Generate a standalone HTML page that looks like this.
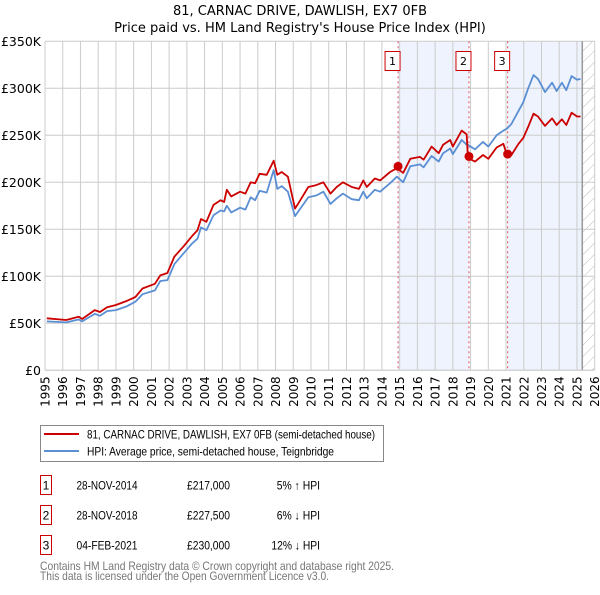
<!DOCTYPE html>
<html><head><meta charset="utf-8"><style>
body{margin:0;background:#fff;width:600px;height:590px;overflow:hidden;font-family:"Liberation Sans","DejaVu Sans",sans-serif}
svg text{font-family:"DejaVu Sans","Liberation Sans",sans-serif}
svg text.ls{font-family:"Liberation Sans","DejaVu Sans",sans-serif}
</style></head><body>
<svg id="c" width="600" height="590" xmlns="http://www.w3.org/2000/svg">
<defs><pattern id="hatch" width="8" height="8" patternUnits="userSpaceOnUse" patternTransform="rotate(45)"><line x1="0" y1="0" x2="0" y2="8" stroke="#bbb" stroke-width="1"/></pattern></defs>
<text x="300" y="15" text-anchor="middle" font-size="13" fill="#000">81, CARNAC DRIVE, DAWLISH, EX7 0FB</text>
<text x="300" y="32" text-anchor="middle" font-size="13" fill="#000">Price paid vs. HM Land Registry's House Price Index (HPI)</text>
<g id="plot"></g>
<g>
<rect x="40.5" y="425.5" width="343" height="36" fill="#fff" stroke="#888"/>
<line x1="44" y1="434" x2="79" y2="434" stroke="#cc0000" stroke-width="2"/>
<text class="ls" x="87" y="438.5" font-size="12" textLength="288" lengthAdjust="spacingAndGlyphs">81, CARNAC DRIVE, DAWLISH, EX7 0FB (semi-detached house)</text>
<line x1="44" y1="451" x2="79" y2="451" stroke="#5b8fd4" stroke-width="2"/>
<text class="ls" x="87" y="455.5" font-size="12" textLength="247" lengthAdjust="spacingAndGlyphs">HPI: Average price, semi-detached house, Teignbridge</text>
</g>
<g id="tbl" font-size="12"></g>
<text class="ls" x="40" y="570" font-size="12" fill="#777" textLength="354" lengthAdjust="spacingAndGlyphs">Contains HM Land Registry data © Crown copyright and database right 2025.</text>
<text class="ls" x="40" y="580" font-size="12" fill="#777" textLength="289" lengthAdjust="spacingAndGlyphs">This data is licensed under the Open Government Licence v3.0.</text>
</svg>
<script>
const yearTicks=[1995,1996,1997,1998,1999,2000,2001,2002,2003,2004,2005,2006,2007,2008,2009,2010,2011,2012,2013,2014,2015,2016,2017,2018,2019,2020,2021,2022,2023,2024,2025,2026];
const valueTicks=[0,50,100,150,200,250,300,350];
const valueLabels=["£0","£50K","£100K","£150K","£200K","£250K","£300K","£350K"];
const dates=[1995.1,1996.2,1996.9,1997.1,1997.8,1998.1,1998.5,1999.0,1999.6,2000.1,2000.5,2001.2,2001.5,2001.9,2002.3,2002.8,2003.3,2003.6,2003.8,2004.1,2004.5,2004.9,2005.1,2005.25,2005.5,2006.0,2006.3,2006.6,2006.85,2007.1,2007.5,2007.9,2008.1,2008.35,2008.7,2009.1,2009.4,2009.85,2010.3,2010.7,2011.1,2011.45,2011.8,2012.3,2012.7,2012.95,2013.15,2013.6,2013.9,2014.46,2014.84,2015.2,2015.6,2016.15,2016.35,2016.8,2017.2,2017.45,2017.85,2018.0,2018.5,2018.78,2018.85,2019.25,2019.7,2020.0,2020.47,2020.85,2021.05,2021.3,2021.7,2021.97,2022.25,2022.55,2022.8,2023.2,2023.6,2023.85,2024.15,2024.4,2024.7,2025.0,2025.2];
const propertyValues=[55.3,53.5,57,54.6,64,62,67,69.5,73.7,78,87,92,101,103.5,121,131.5,143,149,161,158,176,181,179,192,185,190,188,200,199,209,208,223,208,211,206,172,181,195,197,200,188,195,200,195,193,202,195,204,202,211,215,210,225,227,224,238,231,240,245,238,255,251,226,222,229,225,237,241,229,229,241,247,259,273,270,260,268,261,267,261,274,270,270];
const hpiValues=[52,51,54,52,60,58,63,64,68,73,81,85,95,96,113,124,135,140,152,149,165,170,169,175,168,173,171,184,181,191,189,213,193,196,190,164,172,184,186,190,177,183,188,182,181,190,183,192,190,199,206,200,217,219,216,228,222,231,236,230,245,240,240,235,243,238,250,255,257,262,276,285,300,314,310,296,306,297,306,298,313,309,310];
const saleDates=[2014.91,2018.91,2021.09];
const salePrices=[217,227.5,230];
const saleLabels=["1","2","3"];
const saleDateText=["28-NOV-2014","28-NOV-2018","04-FEB-2021"];
const salePriceText=["£217,000","£227,500","£230,000"];
const saleHpiText=["5% ↑ HPI","6% ↓ HPI","12% ↓ HPI"];
const dataEnd=2025.3;

const X0=45,X1=594.7,Y0=370.3,YT=41.3;
const xs=d=>X0+(d-1995)*(X1-X0)/31;
const ys=v=>Y0-v*(Y0-YT)/350;
const NS="http://www.w3.org/2000/svg";
const plot=document.getElementById('plot');
function mk(tag,attrs,parent){const e=document.createElementNS(NS,tag);for(const k in attrs)e.setAttribute(k,attrs[k]);(parent||plot).appendChild(e);return e;}
for(const [a,b] of [[saleDates[0],saleDates[1]],[saleDates[2],dataEnd]]){
 const r=mk('rect',{x:xs(a),y:YT,width:xs(b)-xs(a),height:Y0-YT,fill:'#eef3fd'});
 
 
}
const h=mk('rect',{x:xs(dataEnd),y:YT,width:X1-xs(dataEnd),height:Y0-YT,fill:'url(#hatch)'});


yearTicks.forEach(y=>{
 const l=mk('line',{x1:xs(y),x2:xs(y),y1:YT,y2:Y0,stroke:'#ccc','stroke-width':1});
 
 
 const t=mk('text',{x:0,y:0,'font-size':12,'text-anchor':'end',transform:`translate(${xs(y)+4.5},${Y0+6}) rotate(-90)`});
 t.textContent=y;
 
 
});
valueTicks.forEach((v,i)=>{
 const l=mk('line',{x1:X0,x2:X1,y1:ys(v),y2:ys(v),stroke:'#ccc','stroke-width':1});
 
 
 const t=mk('text',{x:41,y:ys(v)+4.5,'font-size':12.5,'text-anchor':'end'});
 t.textContent=valueLabels[i];
 
 
});
const ln=mk('line',{x1:xs(dataEnd),x2:xs(dataEnd),y1:YT,y2:Y0,stroke:'#999','stroke-width':1.5});


saleDates.forEach(d=>{
 const l=mk('line',{x1:xs(d),x2:xs(d),y1:YT,y2:Y0,stroke:'#e05060','stroke-width':1,'stroke-dasharray':'2,3'});
 
 
});
function path(vals,color,name){
 const d=dates.map((t,i)=>(i?'L':'M')+xs(t).toFixed(1)+','+ys(vals[i]).toFixed(1)).join('');
 const p=mk('path',{d,fill:'none',stroke:color,'stroke-width':1.8,'stroke-linejoin':'round'});
 
 
}
path(hpiValues,'#5b8fd4','hpi-line');
path(propertyValues,'#cc0000','property-line');
saleDates.forEach((d,i)=>{
 const c=mk('circle',{cx:xs(d),cy:ys(salePrices[i]),r:4.5,fill:'#cc0000'});
 
 
 const b=mk('rect',{x:xs(d)-13,y:51.5,width:15,height:19,fill:'#fff',stroke:'#cc0000'});
 
 
 const t=mk('text',{x:xs(d)-5.5,y:65,'font-size':11,'text-anchor':'middle'});
 t.textContent=saleLabels[i];
 
 
});
const ax=mk('line',{x1:X0,x2:X1,y1:Y0,y2:Y0,stroke:'#ccc'});


const tbl=document.getElementById('tbl');
saleDates.forEach((d,i)=>{
 const y=480+i*30;
 const b=mk('rect',{x:40.5,y:y-4.5,width:11,height:19,fill:'#fff',stroke:'#cc0000'},tbl);
 
 
 const cells=[[46,saleLabels[i],'middle',0],[107,saleDateText[i],'middle',61],[230,salePriceText[i],'end',43],[320,saleHpiText[i],'end',saleHpiText[i].length*5.4]];
 cells.forEach(([x,s,a,w])=>{
  const attrs={x,y:y+9.5,'text-anchor':a,'class':'ls'};
  if(w){attrs.textLength=w;attrs.lengthAdjust='spacingAndGlyphs';}
  const t=mk('text',attrs,tbl);
  t.textContent=s;
  
  
 });
});
</script>
</body></html>
